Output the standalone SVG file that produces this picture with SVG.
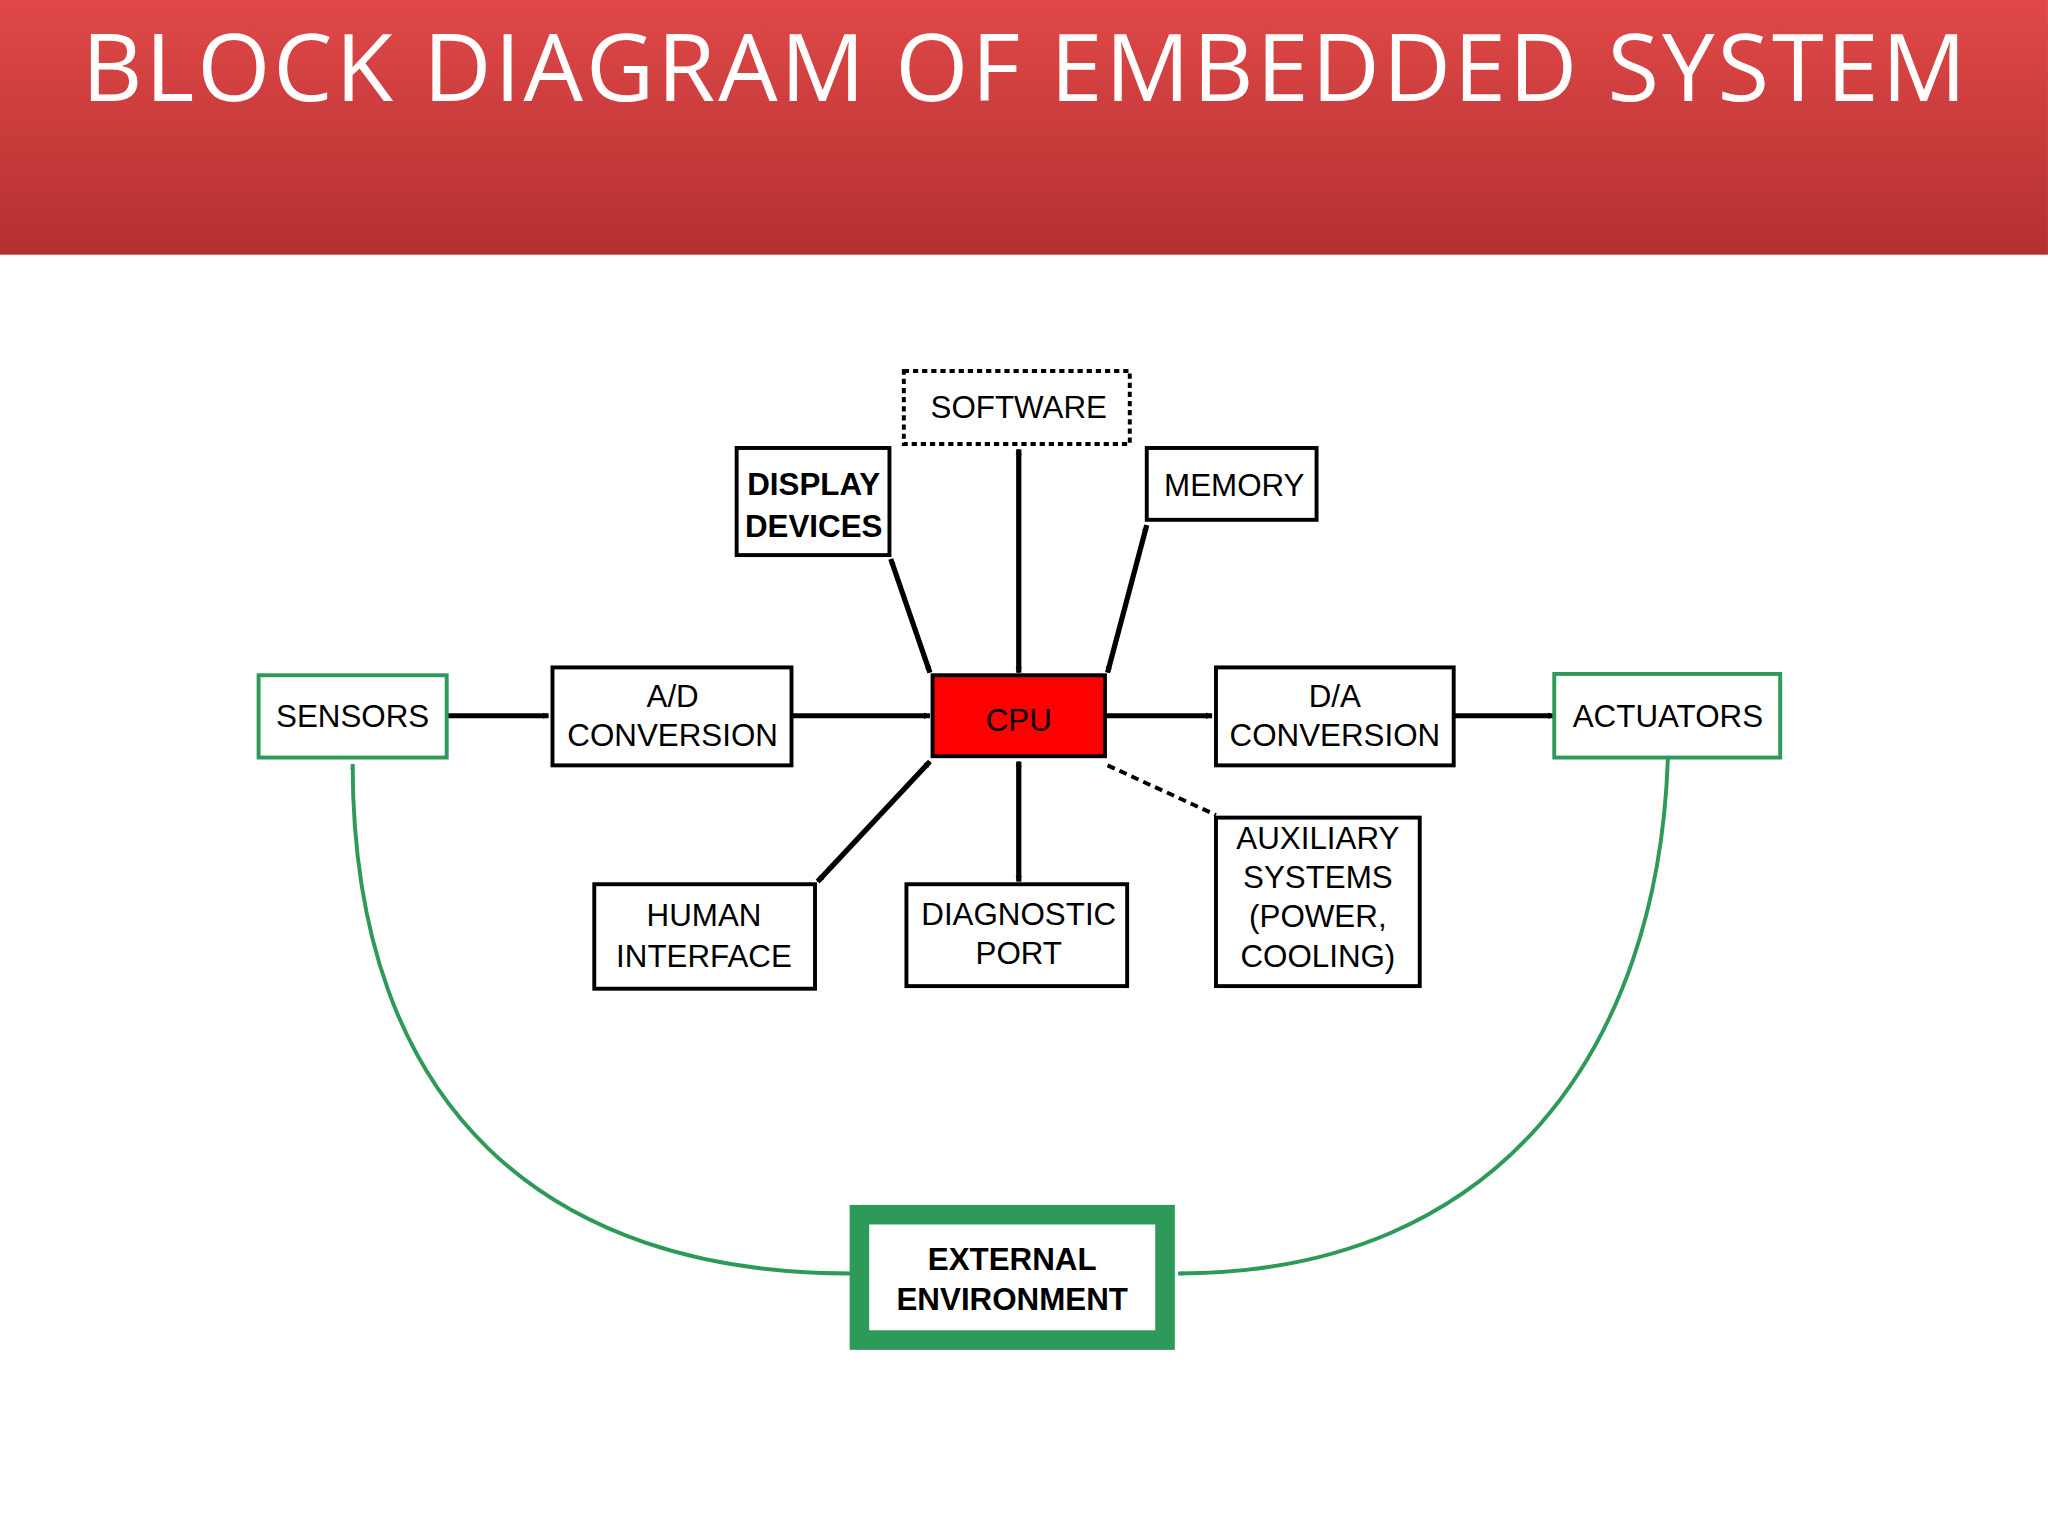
<svg xmlns="http://www.w3.org/2000/svg" width="2048" height="1536" viewBox="0 0 2048 1536">
<defs>
<linearGradient id="hdr" x1="0" y1="0" x2="0" y2="1">
<stop offset="0" stop-color="#e04848"/><stop offset="1" stop-color="#b43030"/>
</linearGradient>
<marker id="ah" viewBox="0 0 10 10" refX="9" refY="5" markerWidth="5" markerHeight="5" orient="auto-start-reverse" markerUnits="userSpaceOnUse"><path d="M0,0 L10,5 L0,10 z" fill="#000"/></marker>
<marker id="gh" viewBox="0 0 10 10" refX="9" refY="5" markerWidth="4" markerHeight="4" orient="auto" markerUnits="userSpaceOnUse"><path d="M0,0 L10,5 L0,10 z" fill="#2e9a5a"/></marker>
<style>
.b{fill:#fff;stroke:#000;stroke-width:3}
.g{fill:#fff;stroke:#2e9a5a;stroke-width:3}
.t{font-family:"Liberation Sans",Arial,sans-serif;font-size:24px;text-anchor:middle;fill:#000}
.c{stroke:#000;stroke-width:4;fill:none}
</style>
</defs>
<rect width="2048" height="1536" fill="#fff"/>
<g transform="scale(1.3061)">
<g id="header">
<rect x="0" y="0" width="1568" height="195" fill="url(#hdr)"/>
<text x="784" y="77" font-family="Open Sans,sans-serif" font-size="72" fill="#fff" text-anchor="middle" textLength="1443">BLOCK DIAGRAM OF EMBEDDED SYSTEM</text>
</g>
<g id="connectors">
<line class="c" x1="342" y1="548" x2="420" y2="548" marker-end="url(#ah)"/>
<line class="c" x1="606" y1="548" x2="712" y2="548" marker-end="url(#ah)"/>
<line class="c" x1="846" y1="548" x2="928" y2="548" marker-end="url(#ah)"/>
<line class="c" x1="1113" y1="548" x2="1190" y2="548" marker-end="url(#ah)"/>
<line class="c" x1="780" y1="344" x2="780" y2="515" marker-start="url(#ah)" marker-end="url(#ah)"/>
<line class="c" x1="682" y1="428" x2="712" y2="515" marker-start="url(#ah)" marker-end="url(#ah)"/>
<line class="c" x1="878" y1="402" x2="848" y2="515" marker-start="url(#ah)" marker-end="url(#ah)"/>
<line class="c" x1="712" y1="583" x2="626" y2="675" marker-start="url(#ah)" marker-end="url(#ah)"/>
<line class="c" x1="780" y1="583" x2="780" y2="675" marker-start="url(#ah)" marker-end="url(#ah)"/>
<line x1="848" y1="586" x2="931" y2="624" stroke="#000" stroke-width="3" stroke-dasharray="6,4"/>
<path d="M1277,580 C1270,800 1150,975 902,975" fill="none" stroke="#2e9a5a" stroke-width="3" marker-end="url(#gh)"/>
<path d="M651,975 C420,975 270,850 270,585" fill="none" stroke="#2e9a5a" stroke-width="3" marker-end="url(#gh)"/>
</g>
<g id="software"><rect x="692" y="284" width="173" height="56" fill="#fff" stroke="#000" stroke-width="3" stroke-dasharray="4,3"/><text class="t" x="780" y="320">SOFTWARE</text></g>
<g id="display"><rect class="b" x="564" y="343" width="117" height="82"/><text class="t" x="623" y="379" font-family="Liberation Serif,serif" font-weight="bold" font-size="22">DISPLAY</text><text class="t" x="623" y="411" font-family="Liberation Serif,serif" font-weight="bold" font-size="22">DEVICES</text></g>
<g id="memory"><rect class="b" x="878" y="343" width="130" height="55"/><text class="t" x="945" y="380">MEMORY</text></g>
<g id="sensors"><rect class="g" x="198" y="517" width="144" height="63"/><text class="t" x="270" y="557">SENSORS</text></g>
<g id="ad"><rect class="b" x="423" y="511" width="183" height="75"/><text class="t" x="515" y="541">A/D</text><text class="t" x="515" y="571">CONVERSION</text></g>
<g id="cpu"><rect x="714" y="517" width="132" height="62" fill="#f00" stroke="#000" stroke-width="3"/><text class="t" x="780" y="560" font-size="34" fill="#fff">CPU</text></g>
<g id="da"><rect class="b" x="931" y="511" width="182" height="75"/><text class="t" x="1022" y="541">D/A</text><text class="t" x="1022" y="571">CONVERSION</text></g>
<g id="actuators"><rect class="g" x="1190" y="516" width="173" height="64"/><text class="t" x="1277" y="557">ACTUATORS</text></g>
<g id="human"><rect class="b" x="455" y="677" width="169" height="80"/><text class="t" x="539" y="709">HUMAN</text><text class="t" x="539" y="740">INTERFACE</text></g>
<g id="diag"><rect class="b" x="694" y="677" width="169" height="78"/><text class="t" x="780" y="708">DIAGNOSTIC</text><text class="t" x="780" y="738">PORT</text></g>
<g id="aux"><rect class="b" x="931" y="626" width="156" height="129"/><text class="t" x="1009" y="650">AUXILIARY</text><text class="t" x="1009" y="680">SYSTEMS</text><text class="t" x="1009" y="710">(POWER,</text><text class="t" x="1009" y="740">COOLING)</text></g>
<g id="env"><rect x="658" y="930" width="234" height="96" fill="#fff" stroke="#2e9a5a" stroke-width="15"/><text class="t" x="775" y="972" font-weight="bold" fill="#2e9a5a">EXTERNAL</text><text class="t" x="775" y="1003" font-weight="bold" fill="#2e9a5a">ENVIRONMENT</text></g>
</g>
</svg>
